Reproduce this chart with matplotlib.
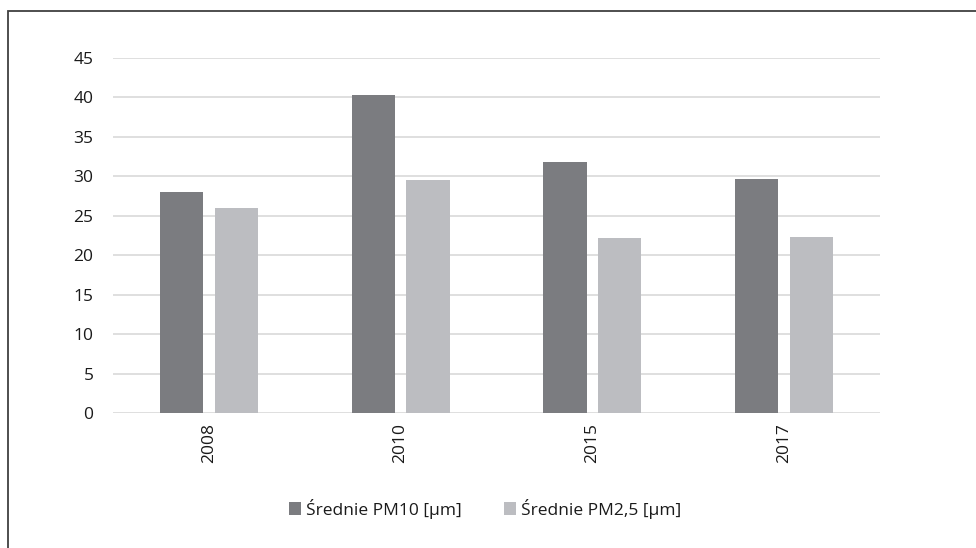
import numpy as np
import matplotlib.pyplot as plt
from matplotlib.patches import Rectangle

years = ['2008', '2010', '2015', '2017']
pm10 = [28.0, 40.3, 31.8, 29.6]
pm25 = [26.0, 29.5, 22.2, 22.3]
series_names = ['Średnie PM10 [µm]', 'Średnie PM2,5 [µm]']

plt.rcParams['font.family'] = ['Open Sans', 'DejaVu Sans']

fig = plt.figure(figsize=(9.76, 5.48), dpi=100)
ax = fig.add_axes([0.1158, 0.2464, 0.7858, 0.6478])

x = np.arange(len(years))
w = 0.225
off = 0.143
ax.bar(x - off, pm10, w, color='#7b7c80', label=series_names[0], zorder=3)
ax.bar(x + off, pm25, w, color='#bcbdc1', label=series_names[1], zorder=3)

ax.set_xlim(-0.5, 3.5)
ax.set_ylim(0, 45)
ax.set_yticks(range(0, 46, 5))
ax.set_xticks(x)
ax.set_xticklabels(years, rotation=90)
ax.grid(axis='y', color='#d9d9d9', linewidth=1.2, zorder=0)
for s in ax.spines.values():
    s.set_visible(False)
ax.tick_params(axis='both', length=0, labelsize=12.5, colors='#1a1a1a')
ax.tick_params(axis='y', pad=14)
ax.tick_params(axis='x', pad=7)

fig.legend(loc='center', bbox_to_anchor=(0.497, 0.072), ncol=2, frameon=False,
           fontsize=12.5, handlelength=0.7, handleheight=0.7, handletextpad=0.3,
           columnspacing=2.4, labelcolor='#1a1a1a')

fig.patches.append(Rectangle((8 / 976, -0.1), 1.2, 1 - 11 / 548 + 0.1,
                             transform=fig.transFigure, fill=False,
                             edgecolor='#404040', linewidth=1.3))

fig.savefig('out.png', dpi=100)
